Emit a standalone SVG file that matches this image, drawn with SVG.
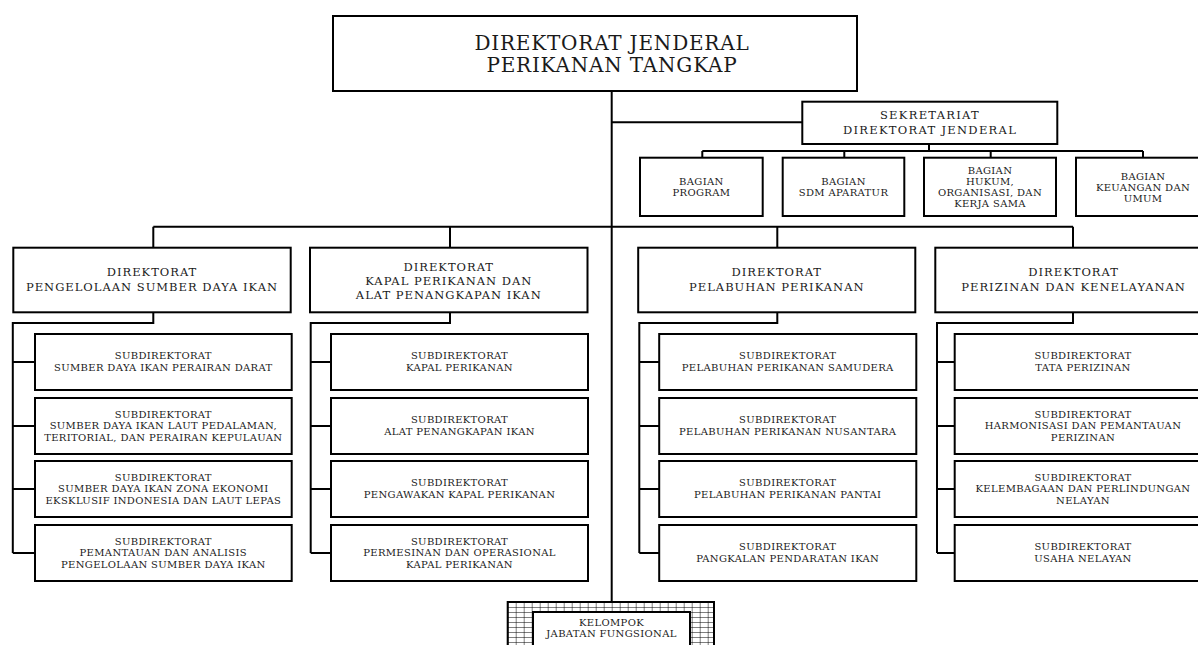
<svg xmlns="http://www.w3.org/2000/svg" width="1198" height="645" viewBox="0 0 1198 645">
<style>
.box{fill:#fff;stroke:#000;stroke-width:2}
.ln{fill:none;stroke:#000;stroke-width:2}
text{font-family:"DejaVu Serif","Liberation Serif",serif;fill:#1a1a1a;text-anchor:middle}
.t0{font-size:20px;letter-spacing:0.8px}
.t1{font-size:11.5px;letter-spacing:1.3px}
.t2{font-size:11.5px;letter-spacing:1px}
.t3{font-size:10px;letter-spacing:0.35px}
</style>
<defs>
<pattern id="grid" x="507.7" y="602" width="8" height="5" patternUnits="userSpaceOnUse">
<rect width="8" height="5" fill="#fff"/>
<path d="M0 0H8M0 0V5" stroke="#000" stroke-width="1" fill="none"/>
</pattern>
</defs>
<rect width="1198" height="645" fill="#fff"/>

<g id="connectors" class="ln">
<path d="M611.7 91V602"/>
<path d="M611.7 122.3H802.3"/>
<path d="M929 144V151M702.3 151H1143M702.3 151V157.7M844.3 151V157.7M990.7 151V157.7M1143 151V157.7"/>
<path d="M153.3 226.7H1073M153.3 226.7V247.7M450 226.7V247.7M777.3 226.7V247.7M1073 226.7V247.7"/>
<path d="M153.3 312.3V323H12.8V553M12.8 362H35M12.8 426H35M12.8 489H35M12.8 553H35"/>
<path d="M450 312.3V323H310.7V553M310.7 362H331M310.7 426H331M310.7 489H331M310.7 553H331"/>
<path d="M777.3 312.3V323H639.3V553M639.3 362H659.2M639.3 426H659.2M639.3 489H659.2M639.3 553H659.2"/>
<path d="M1073 312.3V323H937V553M937 362H954.7M937 426H954.7M937 489H954.7M937 553H954.7"/>
</g>

<g id="dirjen">
<rect class="box" x="333" y="16" width="524" height="75"/>
<text class="t0" x="612" y="50">DIREKTORAT JENDERAL</text>
<text class="t0" x="612" y="72.3">PERIKANAN TANGKAP</text>
</g>

<g id="sekretariat">
<rect class="box" x="802.3" y="101.7" width="255" height="42.3"/>
<text class="t1" x="930" y="119.3">SEKRETARIAT</text>
<text class="t1" x="930" y="134">DIREKTORAT JENDERAL</text>
</g>

<g id="bagian-program">
<rect class="box" x="640" y="157.7" width="122.7" height="58.3"/>
<text class="t3" x="701.4" y="185">BAGIAN</text>
<text class="t3" x="701.4" y="196">PROGRAM</text>
</g>
<g id="bagian-sdm">
<rect class="box" x="782.7" y="157.7" width="121.6" height="58.3"/>
<text class="t3" x="843.5" y="185">BAGIAN</text>
<text class="t3" x="843.5" y="196">SDM APARATUR</text>
</g>
<g id="bagian-hukum">
<rect class="box" x="924" y="157.7" width="132" height="58.3"/>
<text class="t3" x="990" y="174">BAGIAN</text>
<text class="t3" x="990" y="185">HUKUM,</text>
<text class="t3" x="990" y="196">ORGANISASI, DAN</text>
<text class="t3" x="990" y="206.7">KERJA SAMA</text>
</g>
<g id="bagian-keuangan">
<rect class="box" x="1076" y="157.7" width="134" height="58.3"/>
<text class="t3" x="1143" y="180">BAGIAN</text>
<text class="t3" x="1143" y="191">KEUANGAN DAN</text>
<text class="t3" x="1143" y="202">UMUM</text>
</g>

<g id="dir-psdi">
<rect class="box" x="13.3" y="247.7" width="277.4" height="64.6"/>
<text class="t2" x="152" y="276">DIREKTORAT</text>
<text class="t2" x="152" y="290.7">PENGELOLAAN SUMBER DAYA IKAN</text>
</g>
<g id="dir-kapal">
<rect class="box" x="310" y="247.7" width="277.5" height="64.6"/>
<text class="t2" x="448.8" y="270.5">DIREKTORAT</text>
<text class="t2" x="448.8" y="284.5">KAPAL PERIKANAN DAN</text>
<text class="t2" x="448.8" y="298.5">ALAT PENANGKAPAN IKAN</text>
</g>
<g id="dir-pelabuhan">
<rect class="box" x="638.2" y="247.7" width="277.1" height="64.6"/>
<text class="t2" x="776.8" y="276">DIREKTORAT</text>
<text class="t2" x="776.8" y="290.7">PELABUHAN PERIKANAN</text>
</g>
<g id="dir-perizinan">
<rect class="box" x="935.3" y="247.7" width="277" height="64.6"/>
<text class="t2" x="1073.6" y="276">DIREKTORAT</text>
<text class="t2" x="1073.6" y="290.7">PERIZINAN DAN KENELAYANAN</text>
</g>

<g id="sub-1-1">
<rect class="box" x="35" y="334" width="256.7" height="56"/>
<text class="t3" x="163.3" y="359.3">SUBDIREKTORAT</text>
<text class="t3" x="163.3" y="370.7">SUMBER DAYA IKAN PERAIRAN DARAT</text>
</g>
<g id="sub-1-2">
<rect class="box" x="35" y="398" width="256.7" height="56"/>
<text class="t3" x="163.3" y="417.7">SUBDIREKTORAT</text>
<text class="t3" x="163.3" y="429.3">SUMBER DAYA IKAN LAUT PEDALAMAN,</text>
<text class="t3" x="163.3" y="440.5">TERITORIAL, DAN PERAIRAN KEPULAUAN</text>
</g>
<g id="sub-1-3">
<rect class="box" x="35" y="461" width="256.7" height="56"/>
<text class="t3" x="163.3" y="480.7">SUBDIREKTORAT</text>
<text class="t3" x="163.3" y="492.3">SUMBER DAYA IKAN ZONA EKONOMI</text>
<text class="t3" x="163.3" y="503.5">EKSKLUSIF INDONESIA DAN LAUT LEPAS</text>
</g>
<g id="sub-1-4">
<rect class="box" x="35" y="525" width="256.7" height="56"/>
<text class="t3" x="163.3" y="544.7">SUBDIREKTORAT</text>
<text class="t3" x="163.3" y="556.3">PEMANTAUAN DAN ANALISIS</text>
<text class="t3" x="163.3" y="567.5">PENGELOLAAN SUMBER DAYA IKAN</text>
</g>

<g id="sub-2-1">
<rect class="box" x="331" y="334" width="257" height="56"/>
<text class="t3" x="459.5" y="359.3">SUBDIREKTORAT</text>
<text class="t3" x="459.5" y="370.7">KAPAL PERIKANAN</text>
</g>
<g id="sub-2-2">
<rect class="box" x="331" y="398" width="257" height="56"/>
<text class="t3" x="459.5" y="423">SUBDIREKTORAT</text>
<text class="t3" x="459.5" y="434.5">ALAT PENANGKAPAN IKAN</text>
</g>
<g id="sub-2-3">
<rect class="box" x="331" y="461" width="257" height="56"/>
<text class="t3" x="459.5" y="486">SUBDIREKTORAT</text>
<text class="t3" x="459.5" y="497.5">PENGAWAKAN KAPAL PERIKANAN</text>
</g>
<g id="sub-2-4">
<rect class="box" x="331" y="525" width="257" height="56"/>
<text class="t3" x="459.5" y="544.7">SUBDIREKTORAT</text>
<text class="t3" x="459.5" y="556.3">PERMESINAN DAN OPERASIONAL</text>
<text class="t3" x="459.5" y="567.5">KAPAL PERIKANAN</text>
</g>

<g id="sub-3-1">
<rect class="box" x="659.2" y="334" width="257.1" height="56"/>
<text class="t3" x="787.7" y="359.3">SUBDIREKTORAT</text>
<text class="t3" x="787.7" y="370.7">PELABUHAN PERIKANAN SAMUDERA</text>
</g>
<g id="sub-3-2">
<rect class="box" x="659.2" y="398" width="257.1" height="56"/>
<text class="t3" x="787.7" y="423">SUBDIREKTORAT</text>
<text class="t3" x="787.7" y="434.5">PELABUHAN PERIKANAN NUSANTARA</text>
</g>
<g id="sub-3-3">
<rect class="box" x="659.2" y="461" width="257.1" height="56"/>
<text class="t3" x="787.7" y="486">SUBDIREKTORAT</text>
<text class="t3" x="787.7" y="497.5">PELABUHAN PERIKANAN PANTAI</text>
</g>
<g id="sub-3-4">
<rect class="box" x="659.2" y="525" width="257.1" height="56"/>
<text class="t3" x="787.7" y="550">SUBDIREKTORAT</text>
<text class="t3" x="787.7" y="561.5">PANGKALAN PENDARATAN IKAN</text>
</g>

<g id="sub-4-1">
<rect class="box" x="954.7" y="334" width="256.7" height="56"/>
<text class="t3" x="1083" y="359.3">SUBDIREKTORAT</text>
<text class="t3" x="1083" y="370.7">TATA PERIZINAN</text>
</g>
<g id="sub-4-2">
<rect class="box" x="954.7" y="398" width="256.7" height="56"/>
<text class="t3" x="1083" y="417.7">SUBDIREKTORAT</text>
<text class="t3" x="1083" y="429.3">HARMONISASI DAN PEMANTAUAN</text>
<text class="t3" x="1083" y="440.5">PERIZINAN</text>
</g>
<g id="sub-4-3">
<rect class="box" x="954.7" y="461" width="256.7" height="56"/>
<text class="t3" x="1083" y="480.7">SUBDIREKTORAT</text>
<text class="t3" x="1083" y="492.3">KELEMBAGAAN DAN PERLINDUNGAN</text>
<text class="t3" x="1083" y="503.5">NELAYAN</text>
</g>
<g id="sub-4-4">
<rect class="box" x="954.7" y="525" width="256.7" height="56"/>
<text class="t3" x="1083" y="550">SUBDIREKTORAT</text>
<text class="t3" x="1083" y="561.5">USAHA NELAYAN</text>
</g>

<g id="kelompok">
<rect x="507.7" y="602" width="206.3" height="60" fill="url(#grid)" stroke="#000" stroke-width="2"/>
<rect class="box" x="533" y="612" width="157" height="45"/>
<text class="t3" x="611.5" y="625.7">KELOMPOK</text>
<text class="t3" x="611.5" y="636.7">JABATAN FUNGSIONAL</text>
</g>
</svg>
